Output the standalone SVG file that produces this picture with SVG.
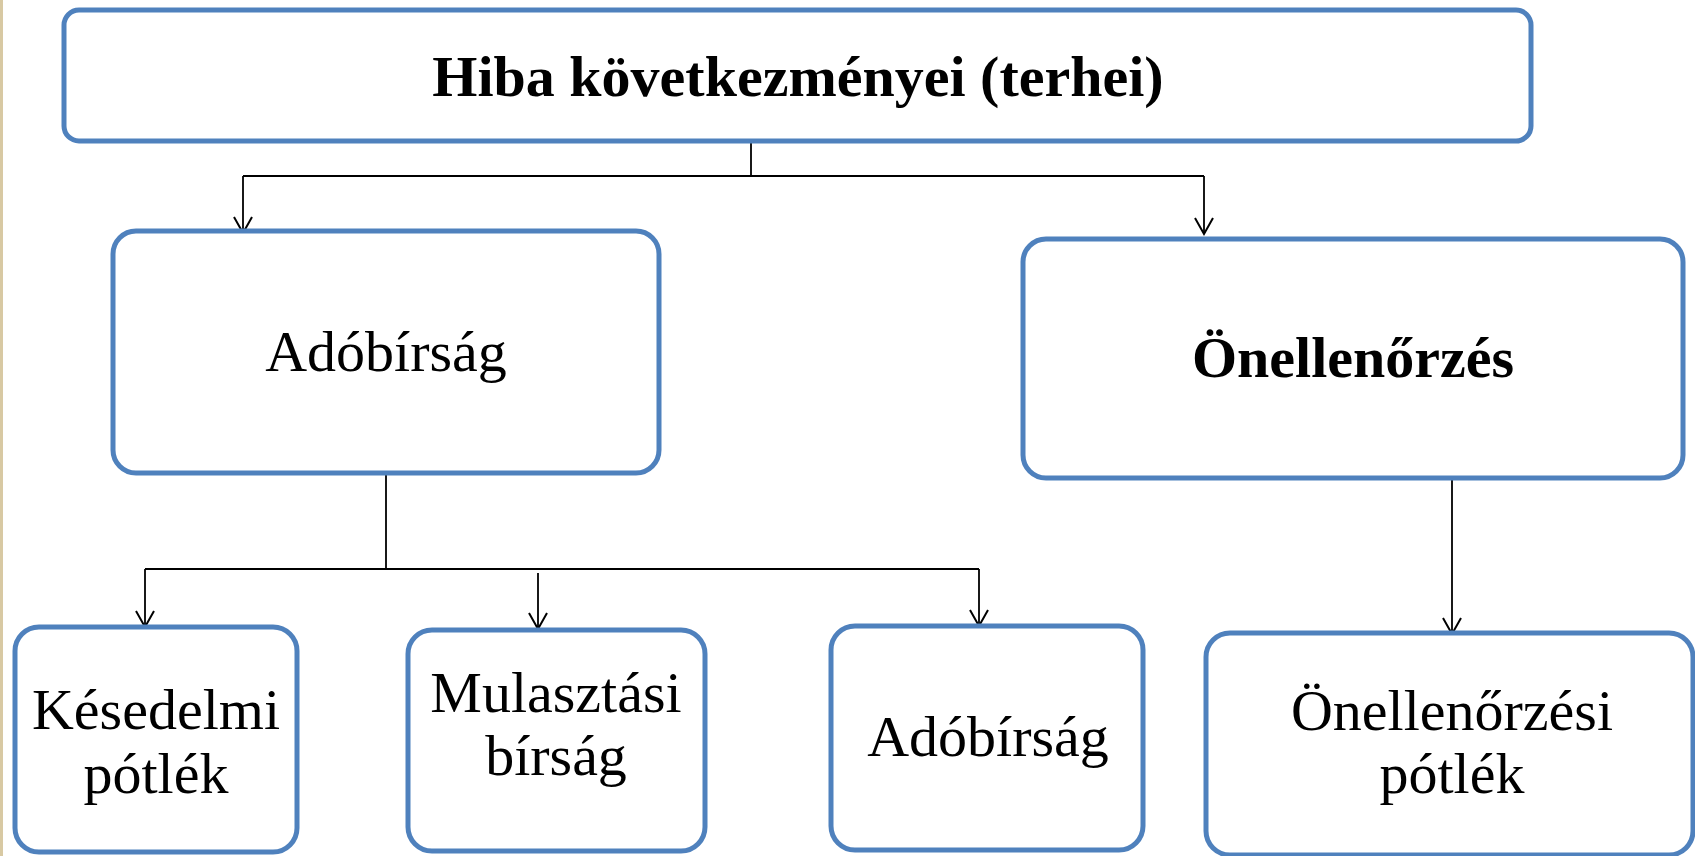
<svg xmlns="http://www.w3.org/2000/svg" width="1695" height="856" viewBox="0 0 1695 856">
<defs>
<style>
.box{fill:#ffffff;stroke:#4F81BD;stroke-width:5}
.t{font-family:"Liberation Serif","Times New Roman",serif;font-size:58px;fill:#000;text-anchor:middle}
.b{font-weight:bold}
.c{fill:none;stroke:#000;stroke-width:1.8}
</style>
<marker id="arr" markerUnits="userSpaceOnUse" markerWidth="22" markerHeight="22" viewBox="-2 -11 22 22" refX="16" refY="0" orient="auto">
<path d="M0,-9 L16,0 L0,9" fill="none" stroke="#000" stroke-width="2"/>
</marker>
</defs>
<rect x="0" y="0" width="1695" height="856" fill="#ffffff"/>
<rect x="0" y="0" width="3" height="856" fill="#d8c9a3"/>
<g id="connectors">
<path class="c" d="M751,141 V176"/>
<path class="c" d="M243,176 H1204"/>
<path class="c" d="M243,176 V233" marker-end="url(#arr)"/>
<path class="c" d="M1204,176 V234" marker-end="url(#arr)"/>
<path class="c" d="M386,475 V569"/>
<path class="c" d="M145,569 H979"/>
<path class="c" d="M145,569 V627" marker-end="url(#arr)"/>
<path class="c" d="M538,573 V629" marker-end="url(#arr)"/>
<path class="c" d="M979,569 V626" marker-end="url(#arr)"/>
<path class="c" d="M1452,472 V634" marker-end="url(#arr)"/>
</g>
<g id="node-top">
<rect class="box" x="64" y="10" width="1467" height="131" rx="15"/>
<text class="t b" x="798" y="96">Hiba következményei (terhei)</text>
</g>
<g id="node-adobirsag-main">
<rect class="box" x="113" y="231" width="546" height="242" rx="23"/>
<text class="t" x="386" y="371">Adóbírság</text>
</g>
<g id="node-onellenorzes">
<rect class="box" x="1023" y="239" width="660" height="239" rx="23"/>
<text class="t b" x="1353" y="377">Önellenőrzés</text>
</g>
<g id="node-kesedelmi">
<rect class="box" x="15" y="627" width="282" height="225" rx="24"/>
<text class="t" x="156" y="729">Késedelmi</text>
<text class="t" x="156" y="793">pótlék</text>
</g>
<g id="node-mulasztasi">
<rect class="box" x="408" y="630" width="297" height="221" rx="24"/>
<text class="t" x="556" y="712">Mulasztási</text>
<text class="t" x="556" y="775">bírság</text>
</g>
<g id="node-adobirsag">
<rect class="box" x="831" y="626" width="312" height="224" rx="24"/>
<text class="t" x="988" y="756">Adóbírság</text>
</g>
<g id="node-onellenorzesi-potlek">
<rect class="box" x="1206" y="633" width="487" height="222" rx="24"/>
<text class="t" x="1452" y="730">Önellenőrzési</text>
<text class="t" x="1452" y="793">pótlék</text>
</g>
</svg>
